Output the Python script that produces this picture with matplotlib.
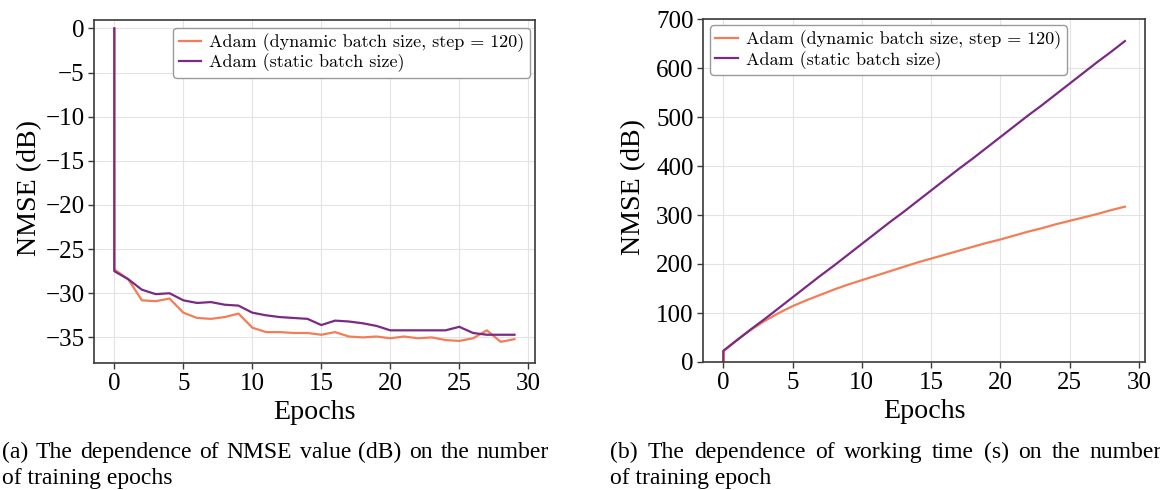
import matplotlib
matplotlib.use("Agg")
import matplotlib.pyplot as plt

# Training epochs (the first entry is the initial state before training)
epochs = [0, 0, 1, 2, 3, 4, 5, 6, 7, 8, 9, 10, 11, 12, 13, 14, 15, 16, 17,
          18, 19, 20, 21, 22, 23, 24, 25, 26, 27, 28, 29]

# NMSE (dB) per epoch
nmse_dynamic = [0.0, -27.3, -28.4, -30.8, -30.9, -30.6, -32.2, -32.8, -32.9,
                -32.7, -32.3, -33.9, -34.4, -34.4, -34.5, -34.5, -34.7, -34.4,
                -34.9, -35.0, -34.9, -35.1, -34.9, -35.1, -35.0, -35.3, -35.4,
                -35.1, -34.2, -35.5, -35.2]
nmse_static = [0.0, -27.5, -28.4, -29.6, -30.1, -30.0, -30.8, -31.1, -31.0,
               -31.3, -31.4, -32.2, -32.5, -32.7, -32.8, -32.9, -33.6, -33.1,
               -33.2, -33.4, -33.7, -34.2, -34.2, -34.2, -34.2, -34.2, -33.8,
               -34.5, -34.7, -34.7, -34.7]

# Cumulative working time per epoch
time_dynamic = [0, 22, 45, 66, 84, 100, 114, 126, 137, 148, 158, 167, 176, 185,
                194, 203, 211, 219, 227, 235, 243, 250, 258, 266, 273, 281, 288,
                295, 302, 310, 317]
time_static = [0, 23, 45, 67, 88, 110, 132, 154, 176, 197, 219, 241, 263, 285,
               306, 328, 350, 372, 394, 415, 437, 459, 481, 503, 524, 546, 568,
               590, 612, 633, 655]

label_dynamic = "Adam (dynamic batch size, step = 120)"
label_static = "Adam (static batch size)"
nmse_ticks = [0, -5, -10, -15, -20, -25, -30, -35]
time_ticks = [0, 100, 200, 300, 400, 500, 600, 700]
epoch_ticks = [0, 5, 10, 15, 20, 25, 30]

caption_a = ["(a) The dependence of NMSE value (dB) on the number",
             "of training epochs"]
caption_b = ["(b) The dependence of working time (s) on the number",
             "of training epoch"]

COLOR_DYN = "#f47d57"
COLOR_STAT = "#7b2a84"
SERIF = ["Liberation Serif", "DejaVu Serif"]

plt.rcParams["font.family"] = SERIF
plt.rcParams["axes.unicode_minus"] = True

W, H = 1160, 490
fig = plt.figure(figsize=(W / 100, H / 100), dpi=100)


def px_axes(x0, x1, ytop, ybot):
    return fig.add_axes([x0 / W, 1 - ybot / H, (x1 - x0) / W, (ybot - ytop) / H])


def style(ax):
    ax.set_facecolor("white")
    ax.grid(True, color="#e3e3e3", lw=0.8)
    ax.set_axisbelow(True)
    for s in ax.spines.values():
        s.set_color("#3a3a3a")
        s.set_linewidth(1.2)
    ax.tick_params(axis="both", labelsize=18, length=4, width=1,
                   color="#3a3a3a", pad=3)
    ax.set_xticks(epoch_ticks)
    ax.set_xlabel("Epochs", fontsize=20.2, labelpad=4)


legend_kw = dict(prop={"family": "cmr10", "size": 13}, frameon=True,
                 fancybox=True, framealpha=1, edgecolor="#9a9a9a",
                 borderpad=0.3, labelspacing=0.1, handlelength=1.25,
                 handletextpad=0.45, borderaxespad=0)

# Left panel: NMSE
ax1 = px_axes(94.3, 534.5, 20, 363)
style(ax1)
ax1.plot(epochs, nmse_dynamic, color=COLOR_DYN, lw=1.6, label=label_dynamic)
ax1.plot(epochs, nmse_static, color=COLOR_STAT, lw=1.6, label=label_static)
ax1.set_ylim(-37.9, 0.95)
ax1.set_yticks(nmse_ticks)
ax1.set_ylabel("NMSE (dB)", fontsize=20.2)
ax1.yaxis.set_label_coords(-0.118, 0.51)
leg1 = ax1.legend(loc="upper right", bbox_to_anchor=(0.99, 0.978), **legend_kw)
leg1.get_frame().set_linewidth(1.0)

# Right panel: working time
ax2 = px_axes(703.3, 1145, 19, 362)
style(ax2)
ax2.plot(epochs, time_dynamic, color=COLOR_DYN, lw=1.6, label=label_dynamic)
ax2.plot(epochs, time_static, color=COLOR_STAT, lw=1.6, label=label_static)
ax2.set_ylim(0, 700)
ax2.set_yticks(time_ticks)
ax2.set_ylabel("NMSE (dB)", fontsize=20.2)
ax2.yaxis.set_label_coords(-0.13, 0.51)
leg2 = ax2.legend(loc="upper left", bbox_to_anchor=(0.015, 0.9825), **legend_kw)
leg2.get_frame().set_linewidth(1.0)

# Captions, first line justified between the given edges
renderer = fig.canvas.get_renderer()
CAP_SIZE = 17


def justified(line, x_left, x_right, y_base):
    words = line.split(" ")
    texts = [fig.text(0, 1 - y_base / H, w, fontsize=CAP_SIZE, va="baseline",
                      ha="left") for w in words]
    widths = [t.get_window_extent(renderer).width for t in texts]
    gap = (x_right - x_left - sum(widths)) / (len(words) - 1)
    x = x_left
    for t, w in zip(texts, widths):
        t.set_x(x / W)
        x += w + gap


def caption(lines, x_left, x_right):
    justified(lines[0], x_left, x_right, 458)
    fig.text(x_left / W, 1 - 484 / H, lines[1], fontsize=CAP_SIZE,
             va="baseline", ha="left")


caption(caption_a, 2, 549)
caption(caption_b, 610, 1162)

fig.savefig("out.png", dpi=100, facecolor="white")
